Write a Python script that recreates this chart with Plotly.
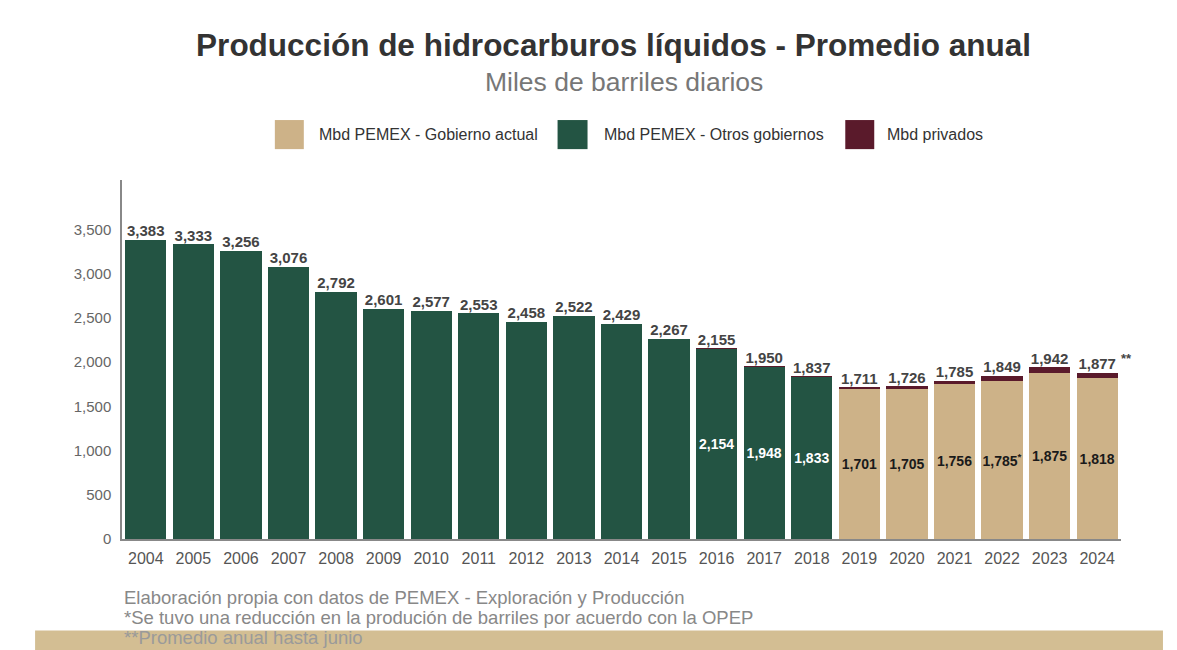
import plotly.graph_objects as go

years = [str(y) for y in range(2004, 2025)]
totals = [3383, 3333, 3256, 3076, 2792, 2601, 2577, 2553, 2458, 2522, 2429,
          2267, 2155, 1950, 1837, 1711, 1726, 1785, 1849, 1942, 1877]
pemex_otros = [3383, 3333, 3256, 3076, 2792, 2601, 2577, 2553, 2458, 2522, 2429,
               2267, 2154, 1948, 1833, None, None, None, None, None, None]
pemex_actual = [None] * 15 + [1701, 1705, 1756, 1785, 1875, 1818]
privados = [0] * 12 + [1, 2, 4, 10, 21, 29, 64, 67, 59]

total_labels = ["3,383", "3,333", "3,256", "3,076", "2,792", "2,601", "2,577", "2,553",
                "2,458", "2,522", "2,429", "2,267", "2,155", "1,950", "1,837", "1,711",
                "1,726", "1,785", "1,849", "1,942", "1,877"]
otros_labels = [""] * 12 + ["2,154", "1,948", "1,833"] + [""] * 6
actual_labels = [""] * 15 + ["1,701", "1,705", "1,756", "1,785<sup>*</sup>", "1,875", "1,818"]

series_names = ["Mbd PEMEX - Gobierno actual", "Mbd PEMEX - Otros gobiernos", "Mbd privados"]

GREEN = "#235443"
TAN = "#cdb288"
MAROON = "#5a1a2b"
FONT = "Liberation Sans, Arial, sans-serif"

fig = go.Figure()
fig.add_trace(go.Bar(
    x=years, y=pemex_actual, name=series_names[0], showlegend=False,
    marker=dict(color=TAN, line=dict(width=0)),
    text=actual_labels, textposition="inside", insidetextanchor="middle",
    textangle=0, textfont=dict(color="#1a1a1a", size=14, family=FONT, weight="bold"),
    constraintext="none",
))
fig.add_trace(go.Bar(
    x=years, y=pemex_otros, name=series_names[1], showlegend=False,
    marker=dict(color=GREEN, line=dict(width=0)),
    text=otros_labels, textposition="inside", insidetextanchor="middle",
    textangle=0, textfont=dict(color="white", size=14, family=FONT, weight="bold"),
    constraintext="none",
))
fig.add_trace(go.Bar(
    x=years, y=privados, name=series_names[2], showlegend=False,
    marker=dict(color=MAROON, line=dict(width=0)),
    textposition="none",
))
fig.add_trace(go.Scatter(
    x=years, y=totals, mode="text", text=total_labels,
    textposition="top center", showlegend=False, hoverinfo="skip",
    textfont=dict(color="#444444", size=15, family=FONT, weight="bold"),
))

# custom legend (large square swatches like the reference)
legend_items = [
    (TAN, series_names[0], 0.153, 0.182, 0.195),
    (GREEN, series_names[1], 0.436, 0.466, 0.480),
    (MAROON, series_names[2], 0.724, 0.753, 0.764),
]
shapes = [dict(
    type="rect", xref="paper", yref="paper",
    x0=-0.087, x1=1.042, y0=-0.255, y1=-0.32,
    fillcolor="#d3be93", line=dict(width=0), layer="below",
)]
annotations = [
    dict(text="Miles de barriles diarios", xref="paper", yref="paper",
         x=0.503, y=1.273, xanchor="center", yanchor="middle", showarrow=False,
         font=dict(size=26.5, color="#777777", family=FONT)),
    dict(text="Elaboración propia con datos de PEMEX - Exploración y Producción",
         xref="paper", yref="paper", x=0.0, y=-0.162, xanchor="left",
         yanchor="middle", showarrow=False,
         font=dict(size=18.5, color="#888888", family=FONT)),
    dict(text="*Se tuvo una reducción en la produción de barriles por acuerdo con la OPEP",
         xref="paper", yref="paper", x=0.0, y=-0.218, xanchor="left",
         yanchor="middle", showarrow=False,
         font=dict(size=18.5, color="#888888", family=FONT)),
    dict(text="**Promedio anual hasta junio",
         xref="paper", yref="paper", x=0.0, y=-0.274, xanchor="left",
         yanchor="middle", showarrow=False,
         font=dict(size=18.5, color="#9a9a9a", family=FONT)),
    dict(text="<b>**</b>", x=len(years) - 1, y=totals[-1], xref="x", yref="y",
         xshift=29, yshift=15, showarrow=False,
         font=dict(size=13, color="#444444", family=FONT)),
]
for color, name, x0, x1, xt in legend_items:
    shapes.append(dict(type="rect", xref="paper", yref="paper",
                       x0=x0, x1=x1, y0=1.086, y1=1.167,
                       fillcolor=color, line=dict(width=0)))
    annotations.append(dict(text=name, xref="paper", yref="paper", x=xt, y=1.128,
                            xanchor="left", yanchor="middle", showarrow=False,
                            font=dict(size=16, color="#333333", family=FONT)))

fig.update_layout(
    width=1169, height=642,
    barmode="stack", bargap=0.13,
    paper_bgcolor="white", plot_bgcolor="white",
    margin=dict(l=114, r=56, t=172, b=111),
    font=dict(family=FONT, color="#555555"),
    showlegend=False,
    title=dict(
        text="<b>Producción de hidrocarburos líquidos - Promedio anual</b>",
        x=0.518, xanchor="center", y=0.942, yanchor="middle",
        font=dict(size=31.5, color="#333333", family=FONT),
    ),
    xaxis=dict(
        type="category", range=[-0.5, 20.5], showline=True, linecolor="#888888",
        linewidth=1.5, ticks="", ticklabelstandoff=4,
        tickfont=dict(size=16, color="#555555"), showgrid=False,
    ),
    yaxis=dict(
        range=[0, 4060], tickvals=[0, 500, 1000, 1500, 2000, 2500, 3000, 3500],
        tickformat=",", showline=True, linecolor="#888888", linewidth=1.5,
        ticks="", ticklabelstandoff=6,
        tickfont=dict(size=15, color="#666666"), showgrid=False,
        zeroline=False,
    ),
    shapes=shapes,
    annotations=annotations,
)

fig.write_html("out.html")
